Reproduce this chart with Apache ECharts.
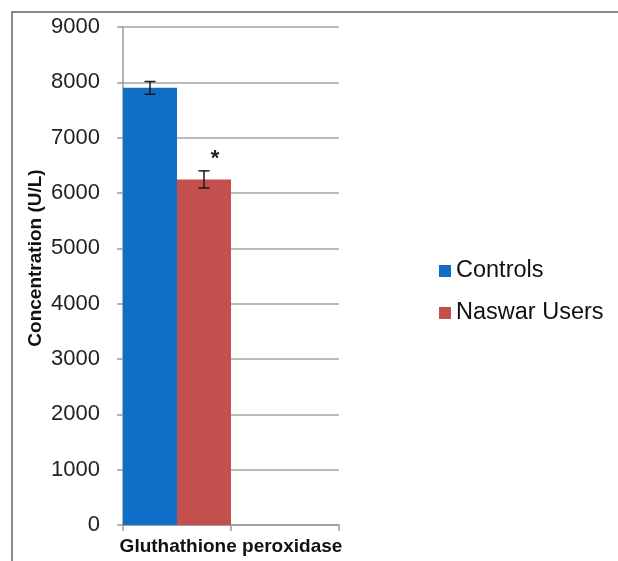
<!DOCTYPE html>
<html>
<head>
<meta charset="utf-8">
<script src="https://cdn.jsdelivr.net/npm/echarts@6/dist/echarts.min.js"></script>
<style>html,body{margin:0;padding:0;background:#fff;}#c{width:618px;height:561px;}</style>
</head>
<body>
<div id="c"></div>
<script>
const categories = ['Gluthathione peroxidase', ''];
const seriesNames = ['Controls', 'Naswar Users'];
const controls = [7900, null];
const naswar = [6245, null];
const controlsErr = [115, null];
const naswarErr = [155, null];
const significance = ['', '*'];
const yTicks = [0, 1000, 2000, 3000, 4000, 5000, 6000, 7000, 8000, 9000];
const colors = ['#0f6fc6', '#c4504e'];

const errData = [];
[controls, naswar].forEach(function (vals, g) {
  const errs = g === 0 ? controlsErr : naswarErr;
  vals.forEach(function (v, i) {
    if (v != null) errData.push([i, v, errs[i], g]);
  });
});

const chart = echarts.init(document.getElementById('c'));
chart.setOption({
  animation: false,
  textStyle: { fontFamily: 'Liberation Sans, Arial, sans-serif' },
  graphic: [
    { type: 'polyline', shape: { points: [[12, 561], [12, 12], [618, 12]] },
      style: { stroke: '#8a8a8a', lineWidth: 2, fill: null }, silent: true },
    { type: 'text', x: 36, y: 258, rotation: Math.PI / 2,
      style: { text: 'Concentration (U/L)', fill: '#111', font: 'bold 19px Liberation Sans, Arial, sans-serif',
        align: 'center', verticalAlign: 'middle' } }
  ],
  legend: {
    orient: 'vertical', left: 434, top: 254, icon: 'rect',
    itemWidth: 12, itemHeight: 12, itemGap: 18,
    data: seriesNames,
    textStyle: { fontSize: 23.5, color: '#111', lineHeight: 24 }
  },
  grid: { left: 123, right: 279, top: 27, bottom: 36 },
  xAxis: {
    type: 'category', data: categories,
    name: categories[0], nameLocation: 'middle', nameGap: 12,
    nameTextStyle: { fontSize: 19, fontWeight: 'bold', color: '#111' },
    axisLine: { lineStyle: { color: '#9a9a9a', width: 1.5 } },
    axisTick: { show: true, interval: 0, length: 6, lineStyle: { color: '#9a9a9a', width: 1.5 } },
    axisLabel: { show: false },
    splitLine: { show: false }
  },
  yAxis: {
    type: 'value', min: yTicks[0], max: yTicks[yTicks.length - 1], interval: yTicks[1] - yTicks[0],
    axisLine: { show: true, lineStyle: { color: '#9a9a9a', width: 1.5 } },
    axisTick: { show: true, length: 6, lineStyle: { color: '#9a9a9a', width: 1.5 } },
    axisLabel: { fontSize: 22, color: '#222', margin: 23, formatter: function (v) { return String(v); } },
    splitLine: { lineStyle: { color: '#a5a5a5', width: 1.5 } }
  },
  series: [
    { name: seriesNames[0], type: 'bar', data: controls, barGap: '0%', barCategoryGap: '0%',
      itemStyle: { color: colors[0] } },
    { name: seriesNames[1], type: 'bar', data: naswar, barGap: '0%', barCategoryGap: '0%',
      itemStyle: { color: colors[1] } },
    { type: 'custom', data: errData, z: 10, silent: true,
      renderItem: function (params, api) {
        const cat = api.value(0), mean = api.value(1), err = api.value(2), g = api.value(3);
        const band = api.size([1, 0])[0];
        const off = (g - 0.5) * band / 2;
        const top = api.coord([cat, mean + err]);
        const bot = api.coord([cat, mean - err]);
        const x = top[0] + off;
        const cap = 5.5;
        const st = { stroke: '#1a1a1a', lineWidth: 1.5 };
        const children = [
          { type: 'line', shape: { x1: x, y1: top[1], x2: x, y2: bot[1] }, style: st },
          { type: 'line', shape: { x1: x - cap, y1: top[1], x2: x + cap, y2: top[1] }, style: st },
          { type: 'line', shape: { x1: x - cap, y1: bot[1], x2: x + cap, y2: bot[1] }, style: st }
        ];
        const star = significance[g];
        if (star) {
          children.push({ type: 'text', x: x + 11, y: top[1] - 12,
            style: { text: star, fill: '#222', font: 'bold 22px Liberation Sans, Arial, sans-serif',
              align: 'center', verticalAlign: 'middle' } });
        }
        return { type: 'group', children: children };
      }
    }
  ]
});
</script>
</body>
</html>
